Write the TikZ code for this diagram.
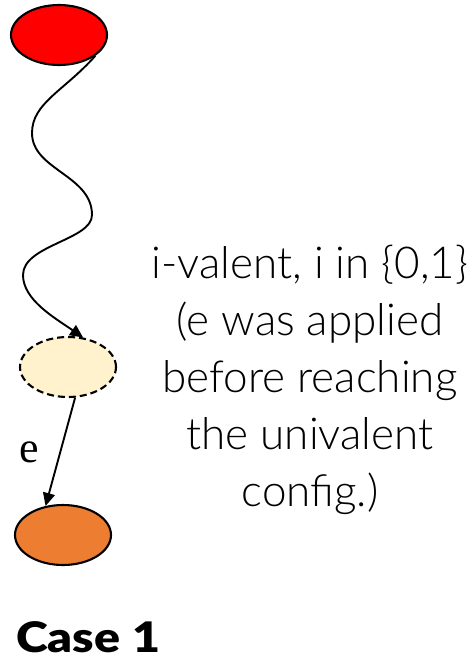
\documentclass[tikz,border=0pt]{standalone}
\usepackage{fontspec}
\usetikzlibrary{shapes.geometric,arrows.meta}
\newfontfamily\lightfont{Lato Light}
\newfontfamily\boldfont{Lato Black}[FakeStretch=1.15]
\newfontfamily\serifletter{Liberation Serif}
\definecolor{cfgred}{HTML}{FF0000}
\definecolor{cfgcream}{HTML}{FFF2CC}
\definecolor{cfgorange}{HTML}{ED7D31}
\tikzset{
  config/.style={ellipse, draw=black, line width=2.1pt, inner sep=0pt,
                 minimum width=96pt, minimum height=60pt},
  tip/.style={-{Triangle[length=13pt,width=12pt]}},
  conn/.style={line width=1.9pt, tip},
}
\begin{document}
\begin{tikzpicture}[x=1pt,y=-1pt]
  \useasboundingbox (0,0) rectangle (469,664);
  % configurations
  \node[config, fill=cfgred]    (start) at (59,35)  {};
  \node[config, fill=cfgcream, dashed, dash pattern=on 7pt off 4pt] (mid) at (68,367) {};
  \node[config, fill=cfgorange] (last) at (63,535) {};
  % long run of steps from the initial configuration
  \draw[conn] (start.-30)
      .. controls (64,91)  and (32,103) .. (32,133)
      .. controls (32,170) and (92,175) .. (92,215)
      .. controls (92,240) and (23,245) .. (23,275)
      .. controls (23,300) and (55,318) .. (mid.63);
  % the step e
  \draw[conn] (mid.-77) -- (last.121);
  \node[anchor=base west, inner sep=0pt, font=\serifletter\fontsize{44}{44}\selectfont] (elabel) at (19,462) {e};
  % explanation
  \node[align=center, inner sep=0pt, font=\lightfont\fontsize{44}{57}\selectfont] (note) at (310,380)
    {i-valent, i in \{0,1\}\\(e was applied\\before reaching\\the univalent\\config.)};
  \node[anchor=base west, inner sep=0pt, font=\boldfont\fontsize{42}{42}\selectfont] (case) at (16,652) {Case\hspace{12pt}1};
\end{tikzpicture}
\end{document}
